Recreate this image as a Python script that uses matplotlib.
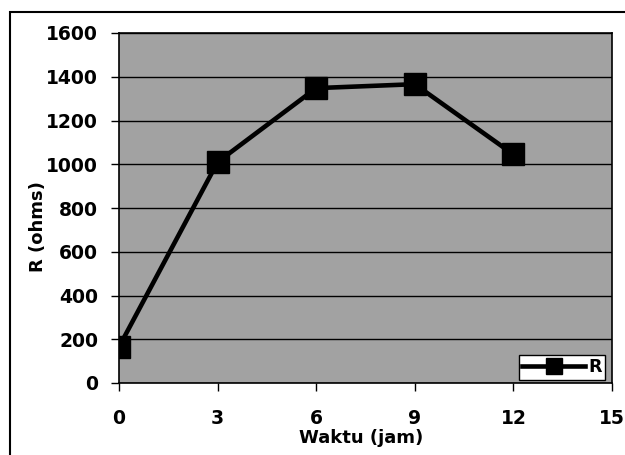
import matplotlib
matplotlib.use("Agg")
import matplotlib.pyplot as plt
from matplotlib.patches import Rectangle

# Resistance over time
waktu = [0, 3, 6, 9, 12]
resistansi = [165, 1010, 1348, 1366, 1045]
x_ticks = [0, 3, 6, 9, 12, 15]
y_ticks = [0, 200, 400, 600, 800, 1000, 1200, 1400, 1600]

plt.rcParams['font.family'] = ['DejaVu Sans']
plt.rcParams['font.weight'] = 'bold'

fig = plt.figure(figsize=(6.25, 4.55), dpi=100)
fig.patch.set_facecolor('white')

W, H = 625, 455
ax = fig.add_axes([119 / W, 1 - 383 / H, (612 - 119) / W, (383 - 33) / H])
ax.set_facecolor('#a2a2a2')

ax.plot(waktu, resistansi, color='black', lw=3.3, marker='s', ms=16,
        mfc='black', mec='black', label='R', zorder=3)

ax.set_xlim(0, 15)
ax.set_ylim(0, 1600)
ax.set_xticks(x_ticks)
ax.set_yticks(y_ticks)
ax.yaxis.grid(True, color='black', lw=1.0)
ax.set_axisbelow(True)
for s in ax.spines.values():
    s.set_color('black')
    s.set_linewidth(1.2)

ax.tick_params(axis='both', direction='out', length=6, width=1.0,
               labelsize=13.5, colors='black')
ax.tick_params(axis='x', pad=13)
ax.tick_params(axis='y', pad=9)
for lab in ax.get_xticklabels() + ax.get_yticklabels():
    lab.set_fontweight('bold')

ax.set_xlabel('Waktu (jam)', fontsize=13, fontweight='bold')
ax.xaxis.set_label_coords((361 - 119) / (612 - 119), -(438 - 383) / 350)
ax.xaxis.label.set_va('center')
ax.set_ylabel('R (ohms)', fontsize=13, fontweight='bold')
ax.yaxis.set_label_coords(-(119 - 38) / 493, (383 - 227) / 350)
ax.yaxis.label.set_va('center')

leg = ax.legend(loc='lower right', bbox_to_anchor=(0.997, -0.005), frameon=True,
                fancybox=False, edgecolor='black', facecolor='white',
                framealpha=1, fontsize=12.5, handlelength=3.6, handletextpad=0.2,
                borderpad=0.2, borderaxespad=0.3, markerscale=0.75)
leg.get_frame().set_linewidth(1.0)
for t in leg.get_texts():
    t.set_fontweight('bold')

# Outer frame
fig.add_artist(Rectangle((10 / W, -0.05), 1.2, 1 - 12 / H + 0.05,
                         transform=fig.transFigure, fill=False,
                         edgecolor='black', lw=1.5, clip_on=False))

fig.savefig('out.png', dpi=100, facecolor='white')
